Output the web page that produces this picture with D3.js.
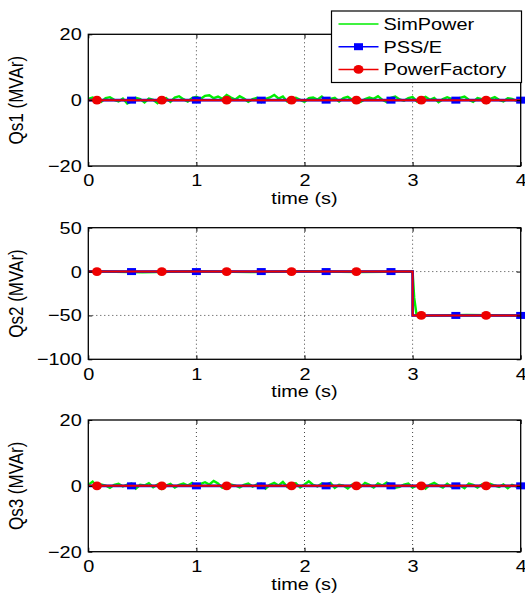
<!DOCTYPE html>
<html>
<head>
<meta charset="utf-8">
<script src="https://cdn.jsdelivr.net/npm/d3@7"></script>
<style>
  body { margin: 0; background: #fff; }
  text { font-family: "Liberation Sans", Arial, sans-serif; }
</style>
</head>
<body>
<div class="chart"></div>
<script>
// data ------------------------------
const seriesNames = ["SimPower", "PSS/E", "PowerFactory"];
const yLabels = ["Qs1 (MVAr)", "Qs2 (MVAr)", "Qs3 (MVAr)"];
const yDomains = [[-20, 20], [-100, 50], [-20, 20]];
const yTicks = [[-20, 0, 20], [-100, -50, 0, 50], [-20, 0, 20]];
const xTicks = [0, 1, 2, 3, 4];

// SimPower samples (every 0.04 s)
const simQs1 = [0.4,0.8,0.2,-0.5,0.6,0.9,0.1,-0.4,0.5,-1.0,-0.3,0.7,0.3,-0.7,0.5,0.1,-0.9,0.3,0.6,-0.5,
  0.8,1.2,0.3,-0.4,0.6,1.0,0.4,1.3,1.5,0.6,1.1,0.4,1.6,0.8,0.2,1.2,0.5,-0.5,0.3,0.7,
  -0.6,0.4,0.8,1.6,0.5,1.1,-0.4,0.4,0.7,0.1,-0.5,0.6,0.8,0.2,1.1,-0.2,0.4,0.7,-0.4,0.6,
  1.0,0.1,0.7,-0.5,0.3,0.8,0.4,1.2,0.1,-0.6,0.7,1.1,0.2,-0.2,0.6,0.9,-0.4,0.4,1.0,0.1,
  0.7,-0.6,0.3,0.9,0.4,-0.4,0.7,1.1,0.1,-0.5,0.6,0.3,-0.8,0.4,0.9,0.1,-0.4,0.6,0.4,-0.2,0.3];
const simQs3 = [0.3,1.3,-0.3,0.4,0.1,-0.6,0.3,0.6,-0.2,0.4,0.7,-0.8,0.3,0.1,0.8,-0.4,0.4,-0.9,0.1,0.6,
  -0.5,0.3,0.7,0.1,0.9,-0.3,0.6,1.1,0.4,1.5,0.7,-0.6,-0.4,0.4,0.1,-0.5,0.3,0.7,-0.2,0.4,
  0.6,-0.8,0.3,0.9,0.1,1.2,-0.3,0.6,0.8,-0.5,0.4,1.4,0.3,-0.2,0.7,0.4,0.9,-0.6,0.3,0.1,
  -0.8,0.4,0.6,-0.3,0.9,0.3,-0.5,0.7,0.1,1.0,0.4,-0.6,-0.3,0.4,0.7,-0.5,0.1,0.6,-0.8,0.3,
  0.9,0.1,-0.5,0.6,-0.3,0.4,0.1,-0.7,0.7,0.3,-0.5,0.4,-0.8,0.6,0.1,-0.3,0.4,-0.7,0.3,-0.2,0.1];
const simQs2T = [0, 0.5, 1.0, 1.5, 2.0, 2.5, 3.0, 3.015, 3.035, 3.05, 3.5, 4.0];
const simQs2V = [0.3, -0.8, 0.4, -0.6, 0.3, -0.5, 0, -30, -48, -50.5, -49.5, -50];

// PSS/E and PowerFactory (flat / step)
const flatT = [0, 4];
const flatV = [0, 0];
const stepT = [0, 3.0, 3.0, 4];
const stepV = [0, 0, -50, -50];

// marker positions
const psseMarkT = [0.4, 1.0, 1.6, 2.2, 2.8, 3.4, 4.0];
const pfMarkT = [0.08, 0.68, 1.28, 1.88, 2.48, 3.08, 3.68];

const colors = ["#00ee00", "#0000ff", "#ee0000"];

// layout ------------------------------
const W = 525, H = 593;
const left = 88.3, right = 520.7;
const panels = [[34.3, 166], [227.7, 359.3], [420, 551.7]];
const sx = 1.17; // horizontal stretch of text in the reference

const svg = d3.select(".chart").append("svg").attr("width", W).attr("height", H);

const xScale = d3.scaleLinear().domain([0, 4]).range([left, right]);

function simData(p) {
  if (p === 0) return simQs1.map((v, i) => [i * 4 / (simQs1.length - 1), v]);
  if (p === 2) return simQs3.map((v, i) => [i * 4 / (simQs3.length - 1), v]);
  return simQs2T.map((t, i) => [t, simQs2V[i]]);
}
function refData(p) {
  const T = p === 1 ? stepT : flatT, V = p === 1 ? stepV : flatV;
  return T.map((t, i) => [t, V[i]]);
}
function valueAt(p, t) {
  if (p === 1) return t >= 3 ? -50 : 0;
  return 0;
}

panels.forEach(([top, bottom], p) => {
  const y = d3.scaleLinear().domain(yDomains[p]).range([bottom, top]);
  const g = svg.append("g");

  // grid
  g.selectAll(".gx").data([1, 2, 3]).enter().append("line")
    .attr("x1", d => xScale(d)).attr("x2", d => xScale(d))
    .attr("y1", top).attr("y2", bottom)
    .attr("stroke", "#444").attr("stroke-width", 1).attr("stroke-dasharray", "1,3");
  g.selectAll(".gy").data(yTicks[p].slice(1, -1)).enter().append("line")
    .attr("x1", left).attr("x2", right)
    .attr("y1", d => y(d)).attr("y2", d => y(d))
    .attr("stroke", "#444").attr("stroke-width", 1).attr("stroke-dasharray", "1,3");

  const line = d3.line().x(d => xScale(d[0])).y(d => y(d[1]));

  g.append("path").datum(simData(p)).attr("d", line)
    .attr("fill", "none").attr("stroke", colors[0]).attr("stroke-width", 2.4);
  g.append("path").datum(refData(p)).attr("d", line)
    .attr("fill", "none").attr("stroke", colors[1]).attr("stroke-width", 2.6);
  g.selectAll(".sq").data(psseMarkT).enter().append("rect")
    .attr("x", d => xScale(d) - 4.5).attr("y", d => y(valueAt(p, d)) - 3.5)
    .attr("width", 9).attr("height", 7).attr("fill", colors[1]);
  g.append("path").datum(refData(p)).attr("d", line)
    .attr("fill", "none").attr("stroke", colors[2]).attr("stroke-width", 2);
  g.selectAll(".ci").data(pfMarkT).enter().append("ellipse")
    .attr("cx", d => xScale(d)).attr("cy", d => y(valueAt(p, d)))
    .attr("rx", 5).attr("ry", 4.4).attr("fill", colors[2]);

  // axes (ticks inside, box around)
  const xAxis = d3.axisBottom(xScale).tickValues(xTicks).tickSize(-4).tickFormat(d3.format("d"));
  const ax = g.append("g").attr("transform", `translate(0,${bottom})`).call(xAxis);
  ax.select(".domain").remove();
  ax.selectAll("text").attr("font-size", 17).attr("fill", "#000")
    .attr("y", 20.5).attr("dy", null).attr("transform", `scale(${sx},1)`);
  const xTop = d3.axisTop(xScale).tickValues(xTicks).tickSize(-4).tickFormat("");
  g.append("g").attr("transform", `translate(0,${top})`).call(xTop).select(".domain").remove();

  const yAxis = d3.axisLeft(y).tickValues(yTicks[p]).tickSize(-4)
    .tickFormat(d => d < 0 ? "\u2212" + Math.abs(d) : d);
  const ay = g.append("g").attr("transform", `translate(${left},0)`).call(yAxis);
  ay.select(".domain").remove();
  ay.selectAll("text").attr("font-size", 17).attr("fill", "#000")
    .attr("x", -6.6 / sx).attr("transform", `scale(${sx},1)`);
  const yRight = d3.axisRight(y).tickValues(yTicks[p]).tickSize(-4).tickFormat("");
  g.append("g").attr("transform", `translate(${right},0)`).call(yRight).select(".domain").remove();

  g.append("rect").attr("x", left).attr("y", top)
    .attr("width", right - left).attr("height", bottom - top)
    .attr("fill", "none").attr("stroke", "#000").attr("stroke-width", 1.3);

  // labels
  g.append("text").attr("transform", `translate(${(left + right) / 2},${bottom + 38}) scale(${sx},1)`)
    .attr("text-anchor", "middle").attr("font-size", 17).text("time (s)");
  g.append("text").attr("transform", `translate(22.5,${(top + bottom) / 2}) rotate(-90) scale(1,${sx})`)
    .attr("text-anchor", "middle").attr("font-size", 17).text(yLabels[p]);
});

// legend
const lg = svg.append("g");
lg.append("rect").attr("x", 331.5).attr("y", 11).attr("width", 190).attr("height", 71.5)
  .attr("fill", "#fff").attr("stroke", "#000").attr("stroke-width", 1.2);
seriesNames.forEach((name, i) => {
  const yy = 24 + i * 22.7;
  lg.append("line").attr("x1", 338.5).attr("x2", 378.5).attr("y1", yy).attr("y2", yy)
    .attr("stroke", colors[i]).attr("stroke-width", 1.5);
  if (i === 1) lg.append("rect").attr("x", 358.5 - 4.5).attr("y", yy - 3.5)
    .attr("width", 9).attr("height", 7).attr("fill", colors[1]);
  if (i === 2) lg.append("ellipse").attr("cx", 358.5).attr("cy", yy)
    .attr("rx", 5).attr("ry", 4.4).attr("fill", colors[2]);
  lg.append("text").attr("transform", `translate(383.5,${yy + 6}) scale(${sx},1)`)
    .attr("font-size", 17).text(name);
});
</script>
</body>
</html>
